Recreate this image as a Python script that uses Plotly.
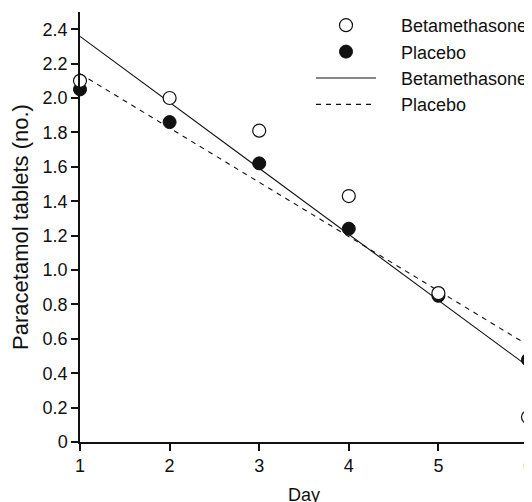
import plotly.graph_objects as go

days = [1, 2, 3, 4, 5, 6]
beta_vals = [2.10, 2.00, 1.81, 1.43, 0.866, 0.145]
placebo_vals = [2.05, 1.86, 1.62, 1.24, 0.85, 0.478]

fit_days = [1, 6]
beta_fit = [2.358, 0.44]
placebo_fit_days = [1, 5.95]
placebo_fit = [2.141, 0.579]

y_ticks = [0, 0.2, 0.4, 0.6, 0.8, 1.0, 1.2, 1.4, 1.6, 1.8, 2.0, 2.2, 2.4]
y_ticktext = ["0", "0.2", "0.4", "0.6", "0.8", "1.0", "1.2", "1.4", "1.6", "1.8", "2.0", "2.2", "2.4"]
x_ticks = [1, 2, 3, 4, 5, 6]

INK = "#111111"
FONT = "Liberation Sans, Arial, sans-serif"
PAD = "\u00a0" * 4

fig = go.Figure()
fig.add_trace(go.Scatter(x=fit_days, y=beta_fit, mode="lines", name=PAD + "Betamethasone",
                         line=dict(color=INK, width=1.1), legendrank=3, cliponaxis=False))
fig.add_trace(go.Scatter(x=placebo_fit_days, y=placebo_fit, mode="lines", name=PAD + "Placebo",
                         line=dict(color=INK, width=1.1, dash="5px,5px"), legendrank=4, cliponaxis=False))
fig.add_trace(go.Scatter(x=days, y=placebo_vals, mode="markers", name=PAD + "Placebo",
                         marker=dict(symbol="circle", size=13, color=INK, line=dict(color=INK, width=1)),
                         legendrank=2, cliponaxis=False))
fig.add_trace(go.Scatter(x=days, y=beta_vals, mode="markers", name=PAD + "Betamethasone",
                         marker=dict(symbol="circle", size=13, color="white", line=dict(color=INK, width=1.2)),
                         legendrank=1, cliponaxis=False))

fig.update_layout(
    width=524, height=494,
    margin=dict(l=72, r=4, t=4, b=60, autoexpand=False),
    paper_bgcolor="white", plot_bgcolor="white",
    font=dict(family=FONT, size=18, color=INK),
    showlegend=True,
    legend=dict(xref="paper", yref="paper", x=(303 - 72) / 448, y=1 + 5 / 430,
                xanchor="left", yanchor="top", bgcolor="rgba(0,0,0,0)",
                font=dict(family=FONT, size=18, color=INK), itemwidth=60,
                traceorder="normal"),
    xaxis=dict(range=[1, 6], tickvals=x_ticks, showline=True, linecolor=INK, linewidth=1.5,
               ticks="outside", ticklen=7, tickwidth=1.5, tickcolor=INK, showgrid=False,
               zeroline=False, ticklabelstandoff=0,
               ticklabeloverflow="allow", tickfont=dict(size=18)),
    yaxis=dict(range=[0, 2.5], tickvals=y_ticks, ticktext=y_ticktext, showline=True,
               linecolor=INK, linewidth=1.5, ticks="outside", ticklen=7, tickwidth=1.5,
               tickcolor=INK, showgrid=False, zeroline=False,
               title=dict(text="Paracetamol tablets (no.)", standoff=8),
               tickfont=dict(size=18)),
    annotations=[dict(text="Day", xref="paper", yref="paper", x=0.5, y=(434 - 487) / 430,
                      xanchor="center", yanchor="middle", showarrow=False,
                      font=dict(family=FONT, size=18, color=INK))],
)

fig.write_html("out.html")
